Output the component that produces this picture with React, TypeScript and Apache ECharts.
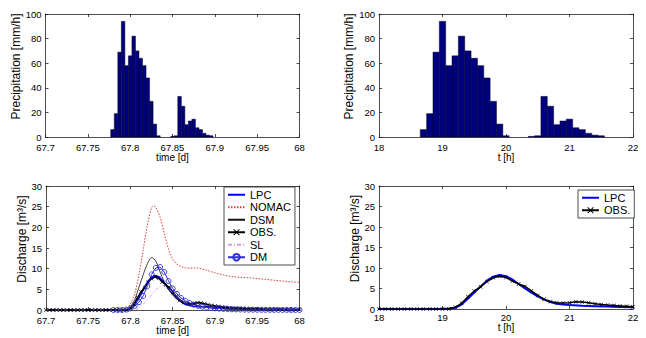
import React, { useEffect, useRef } from 'react';
import * as echarts from 'echarts';

// ---------- Precipitation (bar centres in hours, intensity mm/h) ----------
const PRECIP_T_H = [
  18.7, 18.8, 18.9, 19.0, 19.1, 19.2, 19.3, 19.4, 19.5, 19.6, 19.7, 19.8, 19.9, 20.0,
  20.1, 20.2, 20.3, 20.4, 20.5, 20.6, 20.7, 20.8, 20.9, 21.0, 21.1, 21.2, 21.3, 21.4, 21.5,
];
const PRECIP_MMH = [
  6, 19, 69, 94, 58, 66, 82, 70, 64, 58, 48, 29, 10.5, 1,
  0, 0, 0, 0.5, 1, 33, 25, 10, 13, 14.5, 7.5, 6, 3, 1.5, 1,
];
const BIN_H = 0.1;

// ---------- Observed discharge (regular sampling in hours) ----------
const OBS_START_H = 16.8;
const OBS_STEP_H = 0.1;
const OBS_Q = [
  // 16.8 - 19.1
  0, 0, 0, 0, 0, 0, 0, 0, 0, 0, 0, 0, 0, 0, 0, 0, 0, 0, 0, 0, 0, 0, 0, 0,
  // 19.2 - 22.0
  0.4, 1.4, 3.0, 4.4, 5.4, 6.7, 7.6, 8.0, 7.7, 6.8,
  6.1, 5.5, 4.4, 3.3, 2.4, 1.8, 1.55, 1.45, 1.55, 1.75,
  1.7, 1.5, 1.3, 1.1, 0.95, 0.85, 0.75, 0.65, 0.55,
  // 22.1 - 24.0
  0.5, 0.45, 0.4, 0.35, 0.3, 0.28, 0.25, 0.22, 0.2, 0.18,
  0.16, 0.15, 0.14, 0.13, 0.12, 0.11, 0.1, 0.1, 0.09, 0.09,
];

// ---------- LPC model (hours) ----------
const LPC_T_H = [
  16.8, 19.0, 19.1, 19.2, 19.3, 19.4, 19.5, 19.6, 19.7, 19.8, 19.9, 20.0, 20.1, 20.2, 20.3,
  20.4, 20.5, 20.6, 20.7, 20.8, 20.9, 21.0, 21.2, 21.4, 21.6, 21.8, 22.0, 22.5, 23.0, 23.5, 24.0,
];
const LPC_Q = [
  0, 0, 0.1, 0.3, 1.1, 2.5, 4.0, 5.5, 6.9, 7.9, 8.3, 8.0, 7.2, 6.1, 5.0,
  4.0, 3.1, 2.3, 1.7, 1.3, 1.1, 0.95, 0.8, 0.7, 0.6, 0.5, 0.4, 0.25, 0.15, 0.1, 0.05,
];

// ---------- Other models (days) ----------
const NOMAC_T_D = [
  67.7, 67.79, 67.795, 67.8, 67.805, 67.81, 67.815, 67.82, 67.825, 67.8275, 67.83, 67.835,
  67.84, 67.845, 67.85, 67.855, 67.86, 67.865, 67.87, 67.875, 67.88, 67.885, 67.89, 67.9,
  67.91, 67.92, 67.93, 67.94, 67.95, 67.96, 67.97, 67.98, 67.99, 68.0,
];
const NOMAC_Q = [
  0, 0, 0.3, 1.5, 4, 8.5, 14.5, 20.5, 24.8, 25.2, 24.8, 22.5,
  18.5, 14.8, 12.3, 11.1, 10.5, 10.2, 10.1, 10.2, 10.15, 9.9, 9.6, 9.0,
  8.5, 8.1, 7.9, 7.8, 7.6, 7.4, 7.2, 7.0, 6.8, 6.7,
];
const DSM_T_D = [
  67.7, 67.795, 67.8, 67.805, 67.81, 67.815, 67.82, 67.825, 67.83, 67.835, 67.84, 67.845,
  67.85, 67.855, 67.86, 67.87, 67.88, 67.89, 67.9, 67.92, 67.95, 68.0,
];
const DSM_Q = [
  0, 0, 0.8, 2.5, 5.5, 8.5, 11.2, 12.7, 11.8, 9.2, 6.8, 5.0,
  3.6, 2.6, 2.0, 1.4, 1.0, 0.7, 0.5, 0.3, 0.15, 0.05,
];
const SL_T_D = [
  67.7, 67.805, 67.81, 67.815, 67.82, 67.825, 67.83, 67.835, 67.84, 67.845, 67.85, 67.855,
  67.86, 67.87, 67.88, 67.89, 67.9, 67.92, 67.95, 68.0,
];
const SL_Q = [
  0, 0, 0.6, 1.4, 2.5, 3.7, 4.9, 5.7, 5.9, 5.3, 4.2, 3.1,
  2.3, 1.4, 0.9, 0.6, 0.4, 0.2, 0.1, 0.05,
];
const DM_START_D = 67.78;
const DM_STEP_D = 0.005;
const DM_Q = [
  0, 0, 0,
  0.1, 0.4, 1.0, 1.9, 3.4, 5.8, 8.6, 10.2, 10.4, 9.2,
  7.0, 5.2, 3.9, 2.9, 2.2, 1.7, 1.3, 1.0, 0.8, 0.6,
  0.5, 0.4, 0.32, 0.26, 0.21, 0.17, 0.14, 0.12, 0.1, 0.08,
  0.07, 0.06, 0.05, 0.04, 0.04, 0.03, 0.03, 0.02, 0.02, 0.02,
  0.01, 0.01,
];

const LEGEND_LEFT = ['LPC', 'NOMAC', 'DSM', 'OBS.', 'SL', 'DM'];
const LEGEND_RIGHT = ['LPC', 'OBS.'];
const NO_MARKER = ['LPC', 'NOMAC', 'DSM', 'SL'];

const FONT = '"Liberation Sans", Arial, Helvetica, sans-serif';
const X_SYMBOL = 'path://M0,1L1,0L5,4L9,0L10,1L6,5L10,9L9,10L5,6L1,10L0,9L4,5Z';

const toDay = (h: number) => 67 + h / 24;

function xAxes(gridIndex: number, min: number, max: number, interval: number, name: string,
  labelMargin: number, nameGap: number, fmt?: (v: number) => string) {
  const base: any = {
    type: 'value', gridIndex, min, max, interval,
    axisLine: { show: true, onZero: false, lineStyle: { color: '#222', width: 0.8 } },
    axisTick: { show: true, inside: true, length: 3, lineStyle: { color: '#222', width: 0.8 } },
    splitLine: { show: false },
  };
  return [
    {
      ...base, position: 'bottom', name, nameLocation: 'middle', nameGap,
      nameTextStyle: { fontSize: 10, color: '#000', fontFamily: FONT, lineHeight: 10 },
      axisLabel: { fontSize: 9.5, color: '#000', margin: labelMargin, fontFamily: FONT, lineHeight: 8, formatter: fmt },
    },
    { ...base, position: 'top', axisLabel: { show: false } },
  ];
}

function yAxes(gridIndex: number, max: number, interval: number, name: string, nameGap: number) {
  const base: any = {
    type: 'value', gridIndex, min: 0, max, interval,
    axisLine: { show: true, onZero: false, lineStyle: { color: '#222', width: 0.8 } },
    axisTick: { show: true, inside: true, length: 3, lineStyle: { color: '#222', width: 0.8 } },
    splitLine: { show: false },
  };
  return [
    {
      ...base, position: 'left', name, nameLocation: 'middle', nameRotate: 90, nameGap,
      nameTextStyle: { fontSize: 12, color: '#000', fontFamily: FONT, padding: [0, 0, 0, 18] },
      axisLabel: { fontSize: 9.5, color: '#000', margin: 4, fontFamily: FONT, lineHeight: 8 },
    },
    { ...base, position: 'right', axisLabel: { show: false } },
  ];
}

function barSeries(axisIdx: number, data: number[][], halfWidth: number) {
  return {
    type: 'custom', xAxisIndex: axisIdx, yAxisIndex: axisIdx,
    encode: { x: 0, y: 1 },
    data,
    renderItem: (_p: any, api: any) => {
      const x = api.value(0);
      const v = api.value(1);
      if (!v) return null;
      const p1 = api.coord([x - halfWidth, v]);
      const p2 = api.coord([x + halfWidth, 0]);
      return {
        type: 'rect',
        shape: { x: p1[0], y: p1[1], width: p2[0] - p1[0], height: p2[1] - p1[1] },
        style: { fill: '#00007f', stroke: '#000022', lineWidth: 0.5 },
      };
    },
  };
}

const legendItems = (names: string[]) => names.map((n) =>
  NO_MARKER.includes(n)
    ? { name: n, itemStyle: { color: 'rgba(0,0,0,0)', borderWidth: 0, opacity: 0 } }
    : { name: n });

const legendBase: any = {
  orient: 'vertical',
  backgroundColor: '#fff',
  borderColor: '#222',
  borderWidth: 0.8,
  borderRadius: 0,
  padding: [2, 4, 2, 3],
  itemGap: 1,
  itemWidth: 17,
  itemHeight: 8,
  selectedMode: false,
  textStyle: { fontSize: 11, color: '#000', fontFamily: FONT, lineHeight: 11.5 },
};

export default function App() {
  const ref = useRef<HTMLDivElement>(null);
  useEffect(() => {
    if (!ref.current) return;
    const chart = echarts.init(ref.current, undefined, { renderer: 'svg' });

    const obsH = OBS_Q.map((q, i) => [OBS_START_H + i * OBS_STEP_H, q]);
    const obsD = obsH.map(([h, q]) => [toDay(h), q]);
    const obsR = obsH.filter(([h]) => h > 17.999 && h < 22.001);
    const lpcH = LPC_T_H.map((h, i) => [h, LPC_Q[i]]);
    const lpcD = lpcH.map(([h, q]) => [toDay(h), q]);
    const precipH = PRECIP_T_H.map((h, i) => [h, PRECIP_MMH[i]]);
    const precipD = precipH.map(([h, v]) => [toDay(h), v]);
    const nomac = NOMAC_T_D.map((d, i) => [d, NOMAC_Q[i]]);
    const dsm = DSM_T_D.map((d, i) => [d, DSM_Q[i]]);
    const sl = SL_T_D.map((d, i) => [d, SL_Q[i]]);
    const dm = DM_Q.map((q, i) => [DM_START_D + i * DM_STEP_D, q]);

    const dayFmt = (v: number) => String(parseFloat(Number(v).toFixed(2)));

    const lpcStyle = { symbol: 'none', lineStyle: { color: '#0000ff', width: 2 }, itemStyle: { color: '#0000ff' } };
    const obsStyle = {
      symbol: X_SYMBOL, symbolSize: 4, showAllSymbol: true,
      lineStyle: { color: '#000', width: 1.5 }, itemStyle: { color: '#000' },
    };

    chart.setOption({
      animation: false,
      backgroundColor: '#fff',
      textStyle: { fontFamily: FONT },
      grid: [
        { left: 45.5, top: 14, width: 254, height: 123 },
        { left: 379, top: 14, width: 254, height: 123 },
        { left: 46, top: 186, width: 253.5, height: 124 },
        { left: 379, top: 186, width: 254, height: 123 },
      ],
      xAxis: [
        ...xAxes(0, 67.7, 68, 0.05, 'time [d]', 6, 15, dayFmt),
        ...xAxes(1, 18, 22, 1, 't [h]', 6, 15),
        ...xAxes(2, 67.7, 68, 0.05, 'time [d]', 6, 14, dayFmt),
        ...xAxes(3, 18, 22, 1, 't [h]', 4, 12),
      ],
      yAxis: [
        ...yAxes(0, 100, 20, 'Precipitation [mm/h]', 17),
        ...yAxes(1, 100, 20, 'Precipitation [mm/h]', 16),
        ...yAxes(2, 30, 5, 'Discharge [m³/s]', 12),
        ...yAxes(3, 30, 5, 'Discharge [m³/s]', 11),
      ],
      legend: [
        { ...legendBase, data: legendItems(LEGEND_LEFT), left: 224, top: 187 },
        { ...legendBase, data: legendItems(LEGEND_RIGHT), left: 578, top: 190 },
      ],
      series: [
        barSeries(0, precipD, BIN_H / 2 / 24),
        barSeries(2, precipH, BIN_H / 2),
        // bottom-left
        { name: 'LPC', type: 'line', xAxisIndex: 4, yAxisIndex: 4, data: lpcD, ...lpcStyle },
        {
          name: 'NOMAC', type: 'line', xAxisIndex: 4, yAxisIndex: 4, data: nomac, symbol: 'none', smooth: 0.3,
          lineStyle: { color: '#e03a3a', width: 1, type: [1.5, 1.5] }, itemStyle: { color: '#e03a3a' },
        },
        {
          name: 'DSM', type: 'line', xAxisIndex: 4, yAxisIndex: 4, data: dsm, symbol: 'none', smooth: 0.3,
          lineStyle: { color: '#111', width: 0.8 }, itemStyle: { color: '#111' },
        },
        { name: 'OBS.', type: 'line', xAxisIndex: 4, yAxisIndex: 4, data: obsD, ...obsStyle },
        {
          name: 'SL', type: 'line', xAxisIndex: 4, yAxisIndex: 4, data: sl, symbol: 'none', smooth: 0.3,
          lineStyle: { color: '#dc9fdc', width: 1, type: [4, 2, 1, 2] }, itemStyle: { color: '#dc9fdc' },
        },
        {
          name: 'DM', type: 'line', xAxisIndex: 4, yAxisIndex: 4, data: dm,
          symbol: 'circle', symbolSize: 5, showAllSymbol: true,
          lineStyle: { color: '#2e2ed6', width: 1 },
          itemStyle: { color: 'rgba(255,255,255,0)', borderColor: '#2e2ed6', borderWidth: 0.9 },
        },
        // bottom-right
        { name: 'LPC', type: 'line', xAxisIndex: 6, yAxisIndex: 6, data: lpcH, ...lpcStyle },
        { name: 'OBS.', type: 'line', xAxisIndex: 6, yAxisIndex: 6, data: obsR, ...obsStyle },
      ],
    });
    return () => chart.dispose();
  }, []);

  return (
    <div
      ref={ref}
      style={{ position: 'absolute', left: 0, top: 0, width: 646, height: 338, background: '#fff' }}
    />
  );
}
